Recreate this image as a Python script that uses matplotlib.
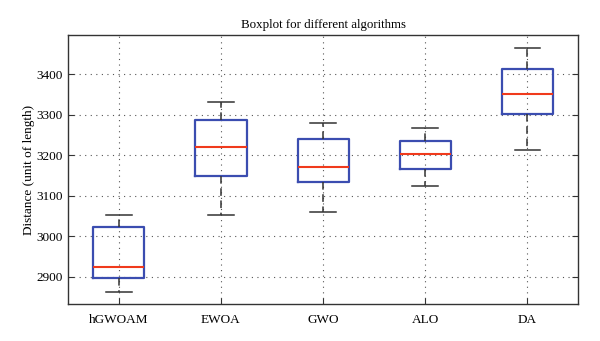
import matplotlib
matplotlib.use("Agg")
import matplotlib.pyplot as plt

plt.rcParams['font.family'] = ['Liberation Serif', 'DejaVu Serif']

algorithms = ["hGWOAM", "EWOA", "GWO", "ALO", "DA"]
whisker_low = [2864, 3053, 3060, 3123, 3212]
q1 = [2897, 3149, 3133, 3166, 3302]
median = [2924, 3221, 3171, 3203, 3352]
q3 = [3022, 3287, 3239, 3235, 3413]
whisker_high = [3053, 3331, 3279, 3268, 3465]

stats = []
for i, name in enumerate(algorithms):
    stats.append(dict(label=name, whislo=whisker_low[i], q1=q1[i], med=median[i],
                      q3=q3[i], whishi=whisker_high[i], fliers=[]))

f = plt.figure(figsize=(6.0, 3.41), dpi=100)
f.subplots_adjust(left=0.113, right=0.964, bottom=0.108, top=0.897)
ax = f.add_subplot(111)

blue = "#3b4db0"
ax.bxp(stats, widths=0.5, showfliers=False,
       boxprops=dict(color=blue, linewidth=1.6),
       medianprops=dict(color="#f03a1c", linewidth=1.5),
       whiskerprops=dict(color="#333333", linewidth=1.1, linestyle=(0, (5, 3))),
       capprops=dict(color="#333333", linewidth=1.1))

ax.set_xlim(0.5, 5.5)
ax.set_ylim(2833, 3496)
ax.set_yticks([2900, 3000, 3100, 3200, 3300, 3400])
ax.grid(True, color="#555555", linestyle=(0, (1, 4)), linewidth=0.8)
ax.set_axisbelow(True)
ax.tick_params(direction="in", length=4, right=True, top=False, labelsize=9.5, color="#333333")
ax.tick_params(axis="x", pad=7)
for s in ax.spines.values():
    s.set_color("#333333")
    s.set_linewidth(1.0)

ax.set_title("Boxplot for different algorithms", fontsize=9.3, pad=5)
ax.set_ylabel("Distance (unit of length)", fontsize=9.5, labelpad=1)

f.savefig("out.png", dpi=100)
